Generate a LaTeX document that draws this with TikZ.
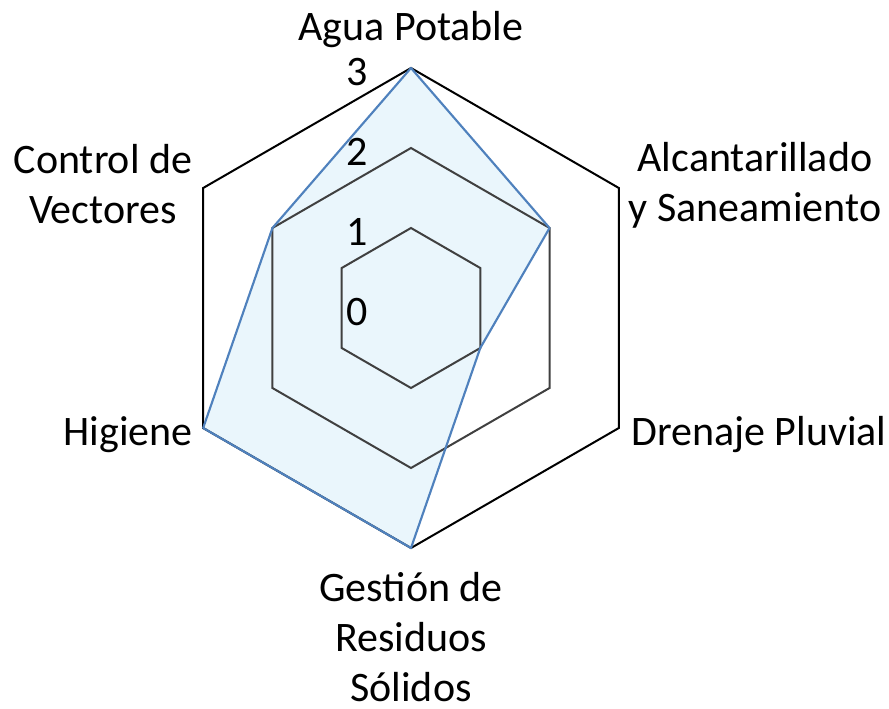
\documentclass[tikz,border=0pt]{standalone}
\usepackage{fontspec}
\setmainfont{Carlito}
\definecolor{serieline}{HTML}{4F81BD}
\definecolor{seriefill}{HTML}{EAF6FC}
\definecolor{ringgray}{HTML}{404040}

\begin{document}
\begin{tikzpicture}[
	x=0.75pt, y=0.75pt,
	every node/.style={font=\fontsize{31.5}{37.5}\selectfont, align=center, inner sep=0pt},
	ring/.style={line width=1.5pt, ringgray, line join=miter},
	outerring/.style={line width=1.5pt, black, line join=miter},
	serie/.style={line width=1.6pt, serieline, line join=round}
	]
\useasboundingbox (-411,-400) rectangle (478,308);

% data points
\coordinate (agua) at (90:240);
\coordinate (alca) at (30:160);
\coordinate (dren) at (-30:80);
\coordinate (gest) at (-90:240);
\coordinate (higi) at (-150:240);
\coordinate (vect) at (150:160);

\fill[seriefill] (agua) -- (alca) -- (dren) -- (gest) -- (higi) -- (vect) -- cycle;

% grid
\draw[ring] (90:80) -- (30:80) -- (-30:80) -- (-90:80) -- (-150:80) -- (150:80) -- cycle;
\draw[ring] (90:160) -- (30:160) -- (-30:160) -- (-90:160) -- (-150:160) -- (150:160) -- cycle;
\draw[outerring] (90:240) -- (30:240) -- (-30:240) -- (-90:240) -- (-150:240) -- (150:240) -- cycle;

\draw[serie] (agua) -- (alca) -- (dren) -- (gest) -- (higi) -- (vect) -- cycle;

% scale
\node at (-54,-4) (s0){0};
\node at (-54,76) (s1){1};
\node at (-54,156) (s2){2};
\node at (-54,236) (s3){3};

% axis labels
\node at (0,278) (laqua){Agua Potable};
\node at (344,123) (lalca){Alcantarillado\\y Saneamiento};
\node at (348,-127) (ldren){Drenaje Pluvial};
\node at (0,-329) (lgest){Gestión de\\Residuos\\Sólidos};
\node at (-283,-127) (lhigi){Higiene};
\node at (-308,124) (lvect){Control de\\Vectores};

\end{tikzpicture}
\end{document}
